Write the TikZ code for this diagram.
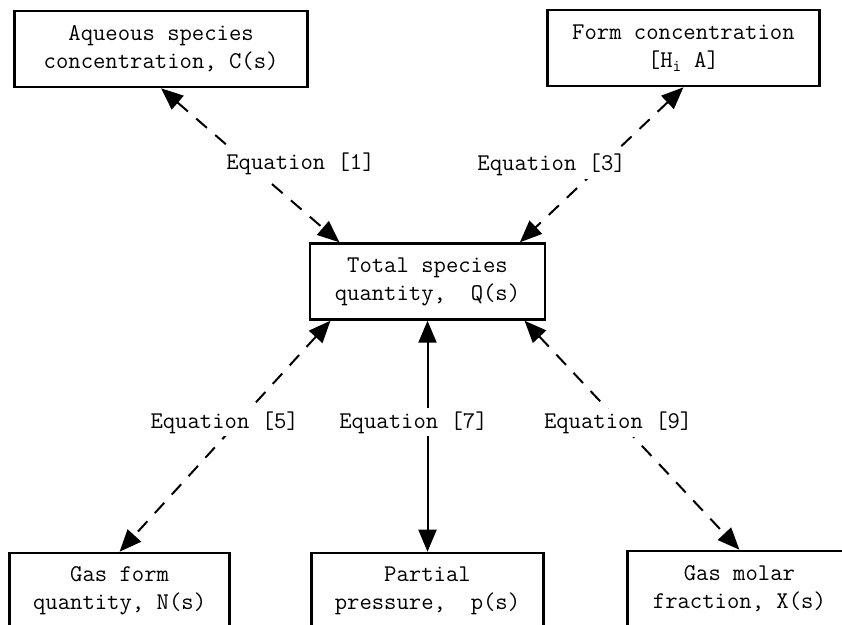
\documentclass[tikz,border=0pt]{standalone}
\usepackage{fontspec}
\usetikzlibrary{arrows.meta,positioning}
\tikzset{
  box/.style={
    rectangle,
    draw=black,
    line width=2.4pt,
    align=center,
    inner sep=0pt,
    minimum height=76pt,
    font=\ttfamily\fontsize{24}{28}\selectfont
  },
  link/.style={
    {Triangle[length=22pt,width=18pt]}-{Triangle[length=22pt,width=18pt]},
    line width=2pt,
    draw=black
  },
  dashlink/.style={
    link,
    dash pattern=on 14pt off 11pt
  },
  eqlabel/.style={
    rectangle,
    fill=white,
    inner sep=3pt,
    font=\ttfamily\fontsize{24}{28}\selectfont
  }
}

\begin{document}
\begin{tikzpicture}[x=1pt,y=1pt]
  \useasboundingbox (0,-624) rectangle (842,0);

  \node[box, minimum width=235pt] (total) at (427.5,-281.5) {Total species\\quantity,\ \ Q(s)};

  \node[box, minimum width=293pt, above left=154pt and 0pt of total] (aqueous) {Aqueous species\\concentration, C(s)};
  \node[box, minimum width=272pt, above right=155pt and 0pt of total] (form) {Form concentration\\{[}H\textsubscript{i} A{]}};

  \node[box, minimum width=220pt, below left=231pt and 78pt of total] (gasform) {Gas form\\quantity, N(s)};
  \node[box, minimum width=232pt, below=231pt of total] (pressure) {Partial\\pressure,\ \ p(s)};
  \node[box, minimum width=224pt, below right=229pt and 80pt of total] (molar) {Gas molar\\fraction, X(s)};

  \draw[dashlink] (aqueous.south) -- node[eqlabel, pos=.49, xshift=52pt] (eq1) {Equation [1]} (total.156);
  \draw[dashlink] (form.south) -- node[eqlabel, pos=.5, xshift=-50pt] (eq3) {Equation [3]} (total.23);
  \draw[dashlink] (total.202) -- node[eqlabel, pos=.44, xshift=-13pt] (eq5) {Equation [5]} (gasform.north);
  \draw[link] (total.south) -- node[eqlabel, pos=.44, xshift=-14pt] (eq7) {Equation [7]} (pressure.north);
  \draw[dashlink] (total.-22) -- node[eqlabel, pos=.445, xshift=-2pt] (eq9) {Equation [9]} (molar.north);
\end{tikzpicture}
\end{document}
